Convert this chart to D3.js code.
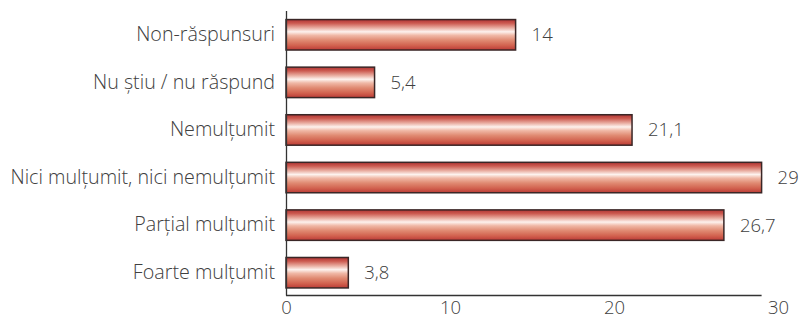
<!DOCTYPE html>
<html>
<head>
<meta charset="utf-8">
<script src="https://cdn.jsdelivr.net/npm/d3@7"></script>
<style>
  html, body { margin: 0; padding: 0; background: #fff; }
  svg text { font-family: "Open Sans", "Noto Sans", sans-serif; fill: #404040; font-weight: 300; }
</style>
</head>
<body>
<svg id="chart" width="800" height="320"></svg>
<script>
// Satisfaction survey, percentages
const categories = [
  "Non-răspunsuri",
  "Nu știu / nu răspund",
  "Nemulțumit",
  "Nici mulțumit, nici nemulțumit",
  "Parțial mulțumit",
  "Foarte mulțumit"
];
const values = [14, 5.4, 21.1, 29, 26.7, 3.8];
const valueLabels = ["14", "5,4", "21,1", "29", "26,7", "3,8"];
const xTicks = [0, 10, 20, 30];

const svg = d3.select("#chart");
const left = 286;

const x = d3.scaleLinear().domain([0, 30]).range([left, 778]);
const y = d3.scaleBand().domain(categories).range([11, 296.5])
  .paddingInner(0.36).paddingOuter(0.18);

// Vertical bar gradient: dark red edges with a bright highlight above centre
const defs = svg.append("defs");
const grad = defs.append("linearGradient")
  .attr("id", "barGrad").attr("x1", 0).attr("y1", 0).attr("x2", 0).attr("y2", 1);
[
  [0.00, "#b03434"],
  [0.12, "#cc5a50"],
  [0.28, "#eab0a4"],
  [0.40, "#fdf2ee"],
  [0.52, "#f0b8a6"],
  [0.68, "#e08a72"],
  [0.85, "#d2624f"],
  [1.00, "#bb3b36"]
].forEach(([o, c]) => grad.append("stop").attr("offset", o).attr("stop-color", c));

// Bars
svg.append("g").selectAll("rect")
  .data(values)
  .join("rect")
  .attr("x", x(0))
  .attr("y", (d, i) => y(categories[i]))
  .attr("width", d => x(d) - x(0))
  .attr("height", y.bandwidth())
  .attr("fill", "url(#barGrad)")
  .attr("stroke", "#3a2626")
  .attr("stroke-width", 1.5);

// Value labels
svg.append("g").selectAll("text")
  .data(values)
  .join("text")
  .attr("x", d => x(d) + 16)
  .attr("y", (d, i) => y(categories[i]) + y.bandwidth() / 2)
  .attr("dy", "0.35em")
  .attr("font-size", 18.5)
  .text((d, i) => valueLabels[i]);

// Category axis
const yAxis = svg.append("g")
  .attr("transform", `translate(${left},0)`)
  .attr("font-family", null)
  .call(d3.axisLeft(y).tickSize(0).tickPadding(11));
yAxis.attr("font-family", null).attr("font-size", null);
yAxis.select(".domain").remove();
yAxis.selectAll("text").attr("font-size", 19.7).attr("fill", "#404040");
svg.append("line")
  .attr("x1", left + 0.5).attr("x2", left + 0.5)
  .attr("y1", 11).attr("y2", 295.5)
  .attr("stroke", "#333").attr("stroke-width", 1.3);

// Value axis: line runs to the longest bar, labels at 0..30
const xAxis = svg.append("g")
  .attr("transform", "translate(0,295)")
  .call(d3.axisBottom(x).tickValues(xTicks).tickSize(0).tickPadding(6));
xAxis.attr("font-family", null).attr("font-size", null);
xAxis.select(".domain").remove();
xAxis.selectAll("text").attr("font-size", 18.5).attr("fill", "#404040");
svg.append("line")
  .attr("x1", left).attr("x2", x(d3.max(values)))
  .attr("y1", 295.5).attr("y2", 295.5)
  .attr("stroke", "#333").attr("stroke-width", 1.3);
</script>
</body>
</html>
